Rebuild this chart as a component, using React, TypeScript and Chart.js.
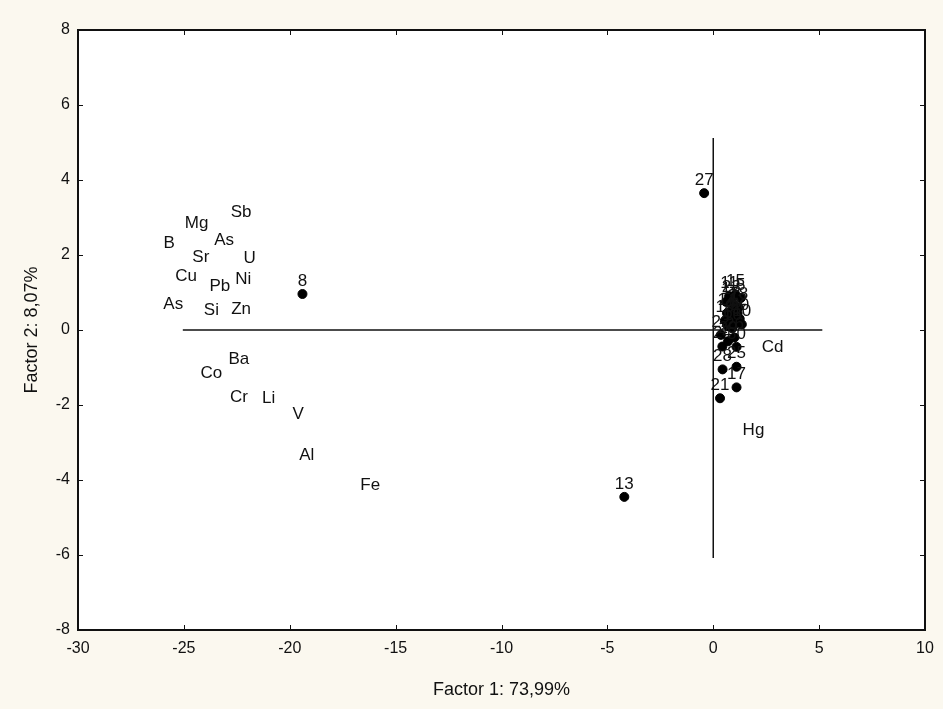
import React, { useEffect, useRef } from "react";
import { Chart, registerables } from "chart.js";

Chart.register(...registerables);

// Variable (element) labels: text only
const elementNames = ["Sb", "Mg", "As", "B", "Sr", "U", "Cu", "Pb", "Ni", "As", "Si", "Zn", "Ba", "Co", "Cr", "Li", "V", "Al", "Fe", "Cd", "Hg"];
const elementX = [-22.3, -24.4, -23.1, -25.7, -24.2, -21.9, -24.9, -23.3, -22.2, -25.5, -23.7, -22.3, -22.4, -23.7, -22.4, -21.0, -19.6, -19.2, -16.2, 2.8, 1.9];
const elementY = [3.15, 2.85, 2.4, 2.3, 1.93, 1.91, 1.43, 1.16, 1.35, 0.68, 0.53, 0.54, -0.77, -1.15, -1.8, -1.82, -2.24, -3.33, -4.13, -0.45, -2.67];

// Samples (cases): numbered points
const sampleIds = ["8", "13", "27", "17", "21", "28", "25", "22", "24", "1", "2", "3", "4", "5", "6", "7", "9", "10", "11", "12", "14", "15", "16", "18", "19", "20", "23", "26", "29", "30"];
const sampleX = [-19.4, -4.2, -0.43, 1.1, 0.32, 0.44, 1.1, 0.36, 0.43, 0.6, 0.9, 1.1, 0.8, 1.3, 0.7, 1.0, 0.95, 1.35, 0.75, 1.15, 0.65, 1.05, 0.9, 1.2, 0.55, 1.25, 0.85, 1.0, 0.7, 1.1];
const sampleY = [0.96, -4.45, 3.65, -1.53, -1.82, -1.05, -0.98, -0.13, -0.44, 0.75, 0.55, 0.2, 0.35, 0.85, 0.1, 0.65, 0.3, 0.15, 0.9, 0.45, 0.45, 0.95, 0.05, 0.6, 0.25, 0.3, 0.8, -0.2, -0.3, -0.45];

// Origin cross lines
const hLineX = [-25.05, 5.15];
const hLineY = [0, 0];
const vLineX = [0, 0];
const vLineY = [5.12, -6.08];

// Axis ticks
const xTicks = [-30, -25, -20, -15, -10, -5, 0, 5, 10];
const yTicks = [-8, -6, -4, -2, 0, 2, 4, 6, 8];

const xTitle = "Factor 1: 73,99%";
const yTitle = "Factor 2: 8,07%";

const FONT = "'Liberation Sans', Arial, sans-serif";

export default function App() {
  const canvasRef = useRef<HTMLCanvasElement | null>(null);

  useEffect(() => {
    const canvas = canvasRef.current;
    if (!canvas) return;

    const bgPlugin = {
      id: "bg",
      beforeDraw(chart: any) {
        const { ctx, chartArea } = chart;
        ctx.save();
        ctx.fillStyle = "#fbf8ef";
        ctx.fillRect(0, 0, chart.width, chart.height);
        ctx.fillStyle = "#ffffff";
        ctx.fillRect(chartArea.left, chartArea.top, chartArea.right - chartArea.left, chartArea.bottom - chartArea.top);
        ctx.restore();
      },
    };

    const framePlugin = {
      id: "frame",
      afterDatasetsDraw(chart: any) {
        const { ctx, chartArea, scales } = chart;
        const { left, right, top, bottom } = chartArea;
        ctx.save();
        ctx.strokeStyle = "#111";
        ctx.lineWidth = 2;
        ctx.strokeRect(left, top, right - left, bottom - top);
        ctx.lineWidth = 1;
        ctx.beginPath();
        xTicks.forEach((v) => {
          const px = Math.round(scales.x.getPixelForValue(v)) + 0.5;
          ctx.moveTo(px, bottom);
          ctx.lineTo(px, bottom - 5);
          ctx.moveTo(px, top);
          ctx.lineTo(px, top + 5);
        });
        yTicks.forEach((v) => {
          const py = Math.round(scales.y.getPixelForValue(v)) + 0.5;
          ctx.moveTo(left, py);
          ctx.lineTo(left + 5, py);
          ctx.moveTo(right, py);
          ctx.lineTo(right - 5, py);
        });
        ctx.stroke();

        // text labels
        ctx.fillStyle = "#111";
        ctx.font = `17px ${FONT}`;
        ctx.textAlign = "center";
        ctx.textBaseline = "middle";
        elementNames.forEach((name, i) => {
          const px = scales.x.getPixelForValue(elementX[i]);
          const py = scales.y.getPixelForValue(elementY[i]);
          ctx.fillText(name, px, py);
        });
        sampleIds.forEach((id, i) => {
          const px = scales.x.getPixelForValue(sampleX[i]);
          const py = scales.y.getPixelForValue(sampleY[i]);
          ctx.fillText(id, px, py - 13);
        });
        ctx.restore();
      },
    };

    const chart = new Chart(canvas, {
      type: "scatter",
      data: {
        datasets: [
          {
            label: "samples",
            data: sampleIds.map((_, i) => ({ x: sampleX[i], y: sampleY[i] })),
            backgroundColor: "#000",
            borderColor: "#000",
            pointRadius: 4.5,
            pointHoverRadius: 4.5,
            order: 0,
          },
          {
            label: "h",
            data: hLineX.map((x, i) => ({ x, y: hLineY[i] })),
            showLine: true,
            borderColor: "#111",
            borderWidth: 1.5,
            pointRadius: 0,
            order: 1,
          },
          {
            label: "v",
            data: vLineX.map((x, i) => ({ x, y: vLineY[i] })),
            showLine: true,
            borderColor: "#111",
            borderWidth: 1.5,
            pointRadius: 0,
            order: 2,
          },
        ],
      },
      options: {
        responsive: false,
        animation: false,
        events: [],
        layout: { padding: { top: 30, right: 18, left: 0, bottom: 0 } },
        plugins: {
          legend: { display: false },
          tooltip: { enabled: false },
        },
        scales: {
          x: {
            type: "linear",
            min: -30,
            max: 10,
            afterBuildTicks(scale: any) {
              scale.ticks = xTicks.map((v) => ({ value: v }));
            },
            afterFit(scale: any) {
              scale.height = 79;
            },
            grid: { display: false, drawTicks: false },
            border: { display: false },
            ticks: { color: "#111", font: { family: FONT, size: 16 }, padding: 9, maxRotation: 0 },
            title: {
              display: true,
              text: xTitle,
              color: "#111",
              font: { family: FONT, size: 18 },
              padding: { top: 0, bottom: 8 },
            },
          },
          y: {
            type: "linear",
            min: -8,
            max: 8,
            afterBuildTicks(scale: any) {
              scale.ticks = yTicks.map((v) => ({ value: v }));
            },
            afterFit(scale: any) {
              scale.width = 78;
            },
            grid: { display: false, drawTicks: false },
            border: { display: false },
            ticks: { color: "#111", font: { family: FONT, size: 16 }, padding: 8 },
            title: {
              display: true,
              text: yTitle,
              color: "#111",
              font: { family: FONT, size: 18 },
              padding: { top: 21, bottom: 0 },
            },
          },
        },
      },
      plugins: [bgPlugin, framePlugin],
    } as any);

    return () => chart.destroy();
  }, []);

  return (
    <div style={{ position: "fixed", left: 0, top: 0, width: 943, height: 709, background: "#fbf8ef" }}>
      <canvas ref={canvasRef} width={943} height={709} style={{ display: "block", width: 943, height: 709 }} />
    </div>
  );
}
